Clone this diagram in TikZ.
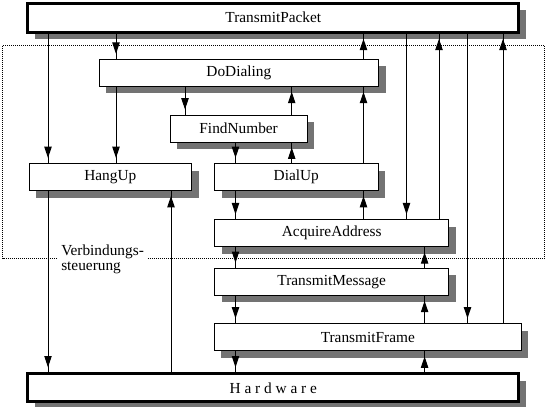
\documentclass[tikz,border=0pt]{standalone}
\usepackage{fontspec}
\setmainfont{Liberation Serif}
\usetikzlibrary{arrows.meta,decorations.markings,shadows}
\begin{document}
\begin{tikzpicture}[x=0.75pt,y=-0.75pt,
  font=\fontsize{11.5}{12}\selectfont,
  box/.style={draw, fill=white, line width=0.75pt, inner sep=0pt, minimum height=20.25pt,
    drop shadow={shadow xshift=5.25pt, shadow yshift=-5.25pt, opacity=1, fill=black!55}},
  bigbox/.style={box, line width=2.25pt},
  conn/.style={line width=0.75pt, postaction={decorate},
    decoration={markings, mark=at position -3.75pt with {\arrow{Triangle[length=8.5pt,width=5.5pt]}}}},
  dotbox/.style={line width=0.8pt, dash pattern=on 0.75pt off 0.75pt}
]
\clip (0,0) rectangle (547,407);
\useasboundingbox (0,0) rectangle (547,407);

% dotted frame
\draw[dotbox] (2.5,45.7) rectangle (544.5,258.4);
\node[fill=white, inner sep=2.25pt, align=left, anchor=west,
  font=\fontsize{11.5}{11.25}\selectfont] (lbl) at (58,259.5) {Verbindungs-\\steuerung};

% boxes
\node[bigbox, minimum width=368.25pt, minimum height=21.75pt] (tp) at (273.3,17.75) {TransmitPacket};
\node[bigbox, minimum width=368.25pt, minimum height=21pt] (hw) at (273.3,387.85) {H a r d w a r e};
\node[box, minimum width=209.5pt] (dd) at (238.85,72.8) {DoDialing};
\node[box, minimum width=102.75pt] (fn) at (238.65,128.5) {FindNumber};
\node[box, minimum width=121.8pt] (hu) at (110.3,177) {HangUp};
\node[box, minimum width=122.7pt] (du) at (296.3,177) {DialUp};
\node[box, minimum width=175.8pt] (aa) at (331.7,233.3) {AcquireAddress};
\node[box, minimum width=175.8pt] (tm) at (331.7,281.85) {TransmitMessage};
\node[box, minimum width=230pt] (tf) at (367.8,337.45) {TransmitFrame};

% x positions of connectors
\coordinate (xa) at (48,0);
\coordinate (xb) at (116,0);
\coordinate (xc) at (171,0);
\coordinate (xd) at (185,0);
\coordinate (xe) at (235.5,0);
\coordinate (xf) at (291.7,0);
\coordinate (xg) at (363.5,0);
\coordinate (xh) at (406.5,0);
\coordinate (xi) at (424.6,0);
\coordinate (xj) at (439,0);
\coordinate (xk) at (467.5,0);
\coordinate (xl) at (503,0);

% connectors from TransmitPacket
\draw[conn] (tp.south -| xa) -- (hu.north -| xa);
\draw[conn] (tp.south -| xb) -- (dd.north -| xb);
\draw[conn] (dd.north -| xg) -- (tp.south -| xg);
\draw[conn] (tp.south -| xh) -- (aa.north -| xh);
\draw[conn] (aa.north -| xj) -- (tp.south -| xj);
\draw[conn] (tp.south -| xk) -- (tf.north -| xk);
\draw[conn] (tf.north -| xl) -- (tp.south -| xl);

% DoDialing
\draw[conn] (dd.south -| xb) -- (hu.north -| xb);
\draw[conn] (dd.south -| xd) -- (fn.north -| xd);
\draw[conn] (fn.north -| xf) -- (dd.south -| xf);
\draw[conn] (du.north -| xg) -- (dd.south -| xg);

% FindNumber
\draw[conn] (fn.south -| xe) -- (du.north -| xe);
\draw[conn] (du.north -| xf) -- (fn.south -| xf);

% HangUp
\draw[conn] (hu.south -| xa) -- (hw.north -| xa);
\draw[conn] (hw.north -| xc) -- (hu.south -| xc);

% DialUp
\draw[conn] (du.south -| xe) -- (aa.north -| xe);
\draw[conn] (aa.north -| xg) -- (du.south -| xg);

% lower chain
\draw[conn] (aa.south -| xe) -- (tm.north -| xe);
\draw[conn] (tm.north -| xi) -- (aa.south -| xi);
\draw[conn] (tm.south -| xe) -- (tf.north -| xe);
\draw[conn] (tf.north -| xi) -- (tm.south -| xi);
\draw[conn] (tf.south -| xe) -- (hw.north -| xe);
\draw[conn] (hw.north -| xi) -- (tf.south -| xi);
\end{tikzpicture}
\end{document}
